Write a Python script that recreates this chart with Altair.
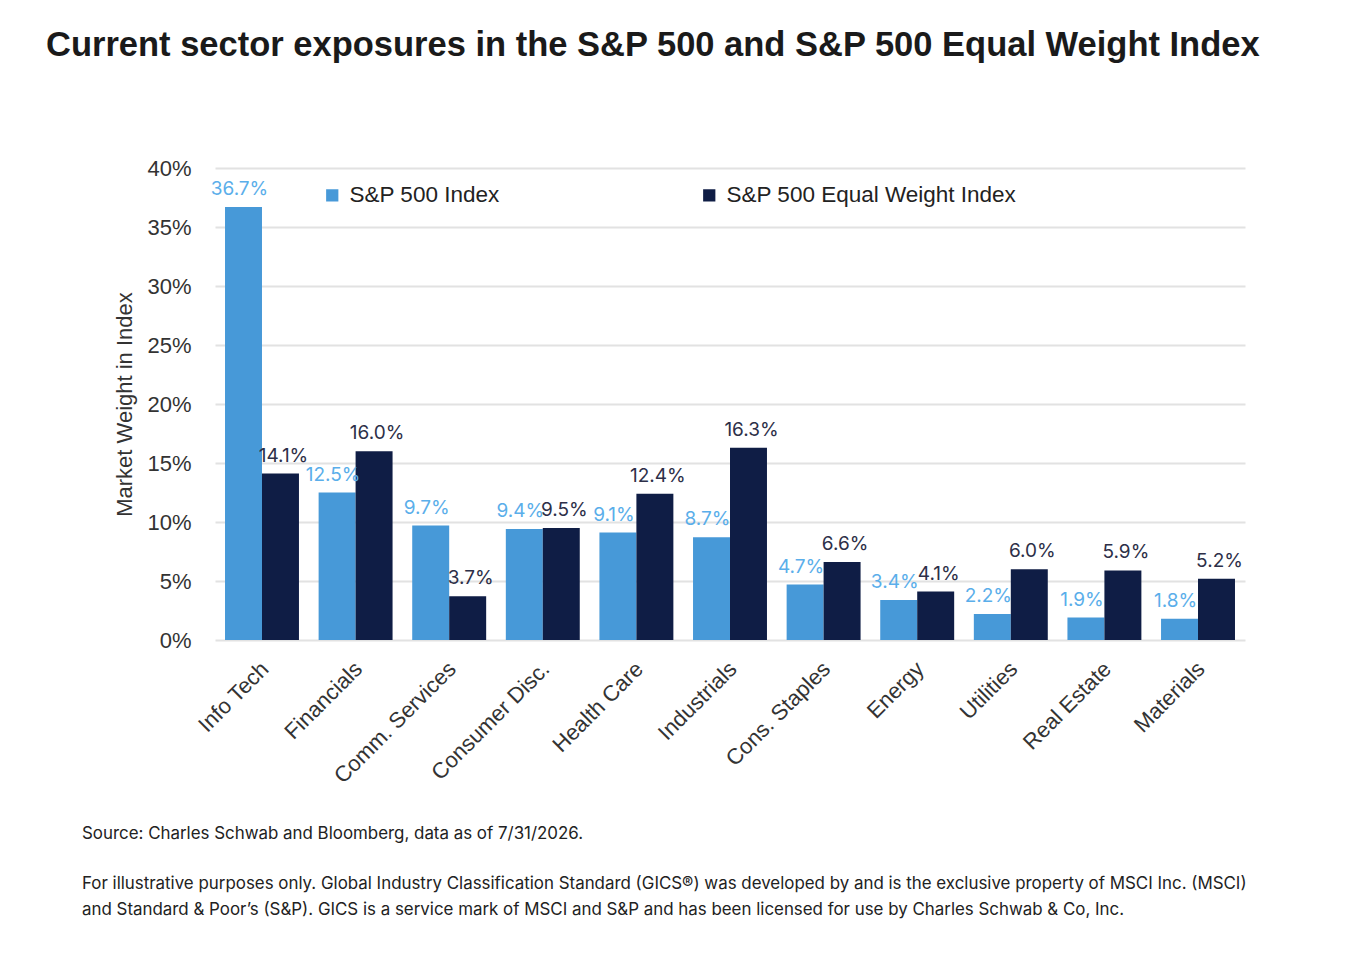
import altair as alt
import pandas as pd

sectors = ["Info Tech", "Financials", "Comm. Services", "Consumer Disc.", "Health Care",
           "Industrials", "Cons. Staples", "Energy", "Utilities", "Real Estate", "Materials"]
sp500 = [36.7, 12.5, 9.7, 9.4, 9.1, 8.7, 4.7, 3.4, 2.2, 1.9, 1.8]
equal_weight = [14.1, 16.0, 3.7, 9.5, 12.4, 16.3, 6.6, 4.1, 6.0, 5.9, 5.2]
series = ["S&P 500 Index", "S&P 500 Equal Weight Index"]
y_ticks = [0, 5, 10, 15, 20, 25, 30, 35, 40]

title_text = "Current sector exposures in the S&P 500 and S&P 500 Equal Weight Index"
notes = [
    "Source: Charles Schwab and Bloomberg, data as of 7/31/2026.",
    "For illustrative purposes only. Global Industry Classification Standard (GICS\u00ae) was developed by and is the exclusive property of MSCI Inc. (MSCI)",
    "and Standard & Poor\u2019s (S&P). GICS is a service mark of MSCI and S&P and has been licensed for use by Charles Schwab & Co, Inc.",
]

rows = []
for s, a, b in zip(sectors, sp500, equal_weight):
    rows.append({"sector": s, "series": series[0], "value": a})
    rows.append({"sector": s, "series": series[1], "value": b})
df = pd.DataFrame(rows)

LIGHT = "#4799d8"
DARK = "#0f1d45"
FONT = "Liberation Sans"

x_enc = alt.X("sector:N", sort=sectors, title=None,
              scale=alt.Scale(paddingInner=0.21, paddingOuter=0.107),
              axis=alt.Axis(labelAngle=-45, labelFontSize=22, labelFont=FONT, labelColor="#333333",
                            labelPadding=18, labelOffset=-4, ticks=False, domain=False, grid=False))
y_enc = alt.Y("value:Q", title="Market Weight in Index",
              scale=alt.Scale(domain=[0, 40], nice=False),
              axis=alt.Axis(values=y_ticks, labelExpr="datum.value + '%'", labelFontSize=22,
                            labelFont=FONT, labelColor="#333333", labelPadding=24,
                            titleFontSize=22, titleFont=FONT, titleFontWeight="normal",
                            titleColor="#333333", titlePadding=10,
                            ticks=False, domain=False, gridColor="#e2e2e2", gridWidth=2))
xoff = alt.XOffset("series:N", sort=series)

bars = alt.Chart(df).mark_bar().encode(
    x=x_enc, y=y_enc, xOffset=xoff,
    color=alt.Color("series:N", sort=series,
                    scale=alt.Scale(domain=series, range=[LIGHT, DARK]),
                    legend=alt.Legend(title=None, orient="none", legendX=106, legendY=16,
                                      direction="horizontal", symbolType="square", symbolSize=150,
                                      symbolStrokeWidth=0, labelFontSize=22.5, labelFont=FONT,
                                      labelColor="#222222", columnPadding=198, labelOffset=6,
                                      labelLimit=0)),
)

base_text = alt.Chart(df).transform_calculate(
    label="format(datum.value, '.1f') + '%'"
)
light_labels = base_text.transform_filter(alt.datum.series == series[0]).mark_text(
    baseline="bottom", dy=-8, dx=-4, fontSize=19, font="Inter", color="#5aaeea"
).encode(x=alt.X("sector:N", sort=sectors), y="value:Q", xOffset=xoff, text="label:N")
dark_labels = base_text.transform_filter(alt.datum.series == series[1]).mark_text(
    baseline="bottom", dy=-8, dx=3, fontSize=19, font="Inter", color="#2d2f48"
).encode(x=alt.X("sector:N", sort=sectors), y="value:Q", xOffset=xoff, text="label:N")

notes_df = pd.DataFrame({"t": notes, "i": [0, 1, 2]})
note_y = [666, 716, 742]
note_layers = [
    alt.Chart(notes_df).transform_filter(alt.datum.i == k).mark_text(
        align="left", baseline="middle", fontSize=16.9, font="Inter", color="#222222"
    ).encode(text="t:N", x=alt.value(-133), y=alt.value(note_y[k]))
    for k in range(3)
]

chart = alt.layer(bars, light_labels, dark_labels, *note_layers).properties(
    width=1030, height=472,
    autosize=alt.AutoSizeParams(type="none"),
    padding={"left": 207, "top": 160, "right": 99, "bottom": 300},
    title=alt.TitleParams(title_text, anchor="start", frame="group", dx=-169, offset=67,
                          fontSize=34.5, font=FONT, fontWeight="bold", color="#1a1a1a",
                          baseline="alphabetic"),
).configure_view(stroke=None)

chart.save("out.html", embed_options={"renderer": "svg", "actions": False})
